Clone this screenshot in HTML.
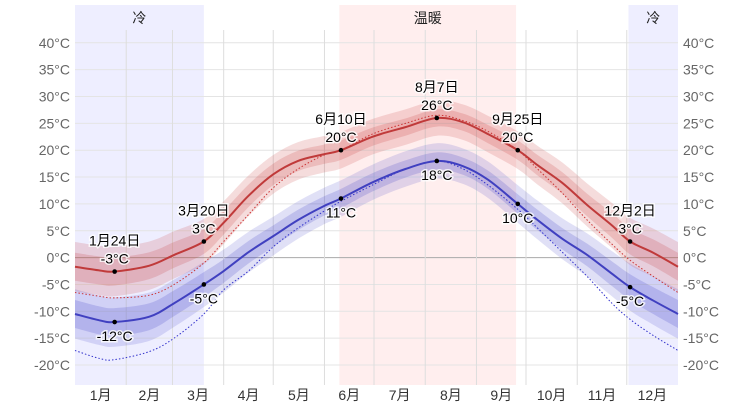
<!DOCTYPE html>
<html><head><meta charset="utf-8"><style>
body{margin:0;background:#fff}
svg{display:block;font-family:"Liberation Sans","Noto Sans CJK SC",sans-serif}
.ann{font-size:14px;fill:#000;stroke:#fff;stroke-width:3px;paint-order:stroke;stroke-opacity:.8}
</style></head><body>
<svg id="c" width="753" height="407"></svg>
<script>
const days=[0,15,24,45,60,78,90,105,120,135,150,161,180,200,219,235,250,268,280,295,310,325,336,350,365];
const highs=[-1.7,-2.4,-2.6,-1.5,0.5,3,6.5,11.5,15.5,18,19.2,20,22.5,24.3,26,25.2,23,20,17.2,13.9,9.8,6,3,0.9,-1.7];
const lows=[-10.5,-11.7,-12,-11,-8.5,-5,-2.5,1,4,7,9.5,11,14,16.5,18,17,14.5,10,7,3.5,0.5,-3,-5.5,-8,-10.5];
const feelHigh=[-6.5,-7.2,-7.5,-7,-5,-1,3,8,13,16.5,19,20,23,25,26.5,25.5,23.5,20,16.5,12,7,2.5,-0.5,-3.5,-6.5];
const feelLow=[-17.3,-18.8,-19,-17.5,-15,-10.5,-6,-2.5,2,5.5,8.5,10.5,13.5,16.5,18,16.5,13.5,9,5.5,1,-3.5,-8.5,-11.5,-14.5,-17.3];
const inner=[2.6,2.6,2.6,2.5,2.4,2.3,2.2,2.1,2,1.9,1.8,1.8,1.7,1.6,1.6,1.6,1.7,1.8,1.9,2,2.1,2.3,2.4,2.5,2.6];
const outer=[4.6,4.6,4.6,4.5,4.4,4.2,4,3.8,3.6,3.5,3.4,3.4,3.3,3.3,3.3,3.3,3.4,3.5,3.6,3.8,4,4.2,4.4,4.5,4.6];
const yTicks=[40,35,30,25,20,15,10,5,0,-5,-10,-15,-20];
const months=['1月','2月','3月','4月','5月','6月','7月','8月','9月','10月','11月','12月'];
const monthStart=[0,31,59,90,120,151,181,212,243,273,304,334,365];
const bands=[{s:0,e:78,label:'冷',c:'rgba(120,120,255,0.13)'},{s:160,e:267,label:'温暖',c:'rgba(255,120,120,0.13)'},{s:335,e:365,label:'冷',c:'rgba(120,120,255,0.13)'}];
const anns=[{d:24,v:-2.6,t:['1月24日','-3°C'],pos:'above'},{d:78,v:3,t:['3月20日','3°C'],pos:'above'},{d:161,v:20,t:['6月10日','20°C'],pos:'above'},{d:219,v:26,t:['8月7日','26°C'],pos:'above'},{d:268,v:20,t:['9月25日','20°C'],pos:'above'},{d:336,v:3,t:['12月2日','3°C'],pos:'above'},
{d:24,v:-12,t:['-12°C'],pos:'below'},{d:78,v:-5,t:['-5°C'],pos:'below'},{d:161,v:11,t:['11°C'],pos:'below'},{d:219,v:18,t:['18°C'],pos:'below'},{d:268,v:10,t:['10°C'],pos:'below'},{d:336,v:-5.5,t:['-5°C'],pos:'below'}];
const X0=75,X1=678,T=5,B=385;
const x=d=>X0+d*(X1-X0)/365;
const y=v=>257.6-v*5.37;
const svg=document.getElementById('c');const NS='http://www.w3.org/2000/svg';
function mk(tag,a,name,p){const e=document.createElementNS(NS,tag);for(const k in a)e.setAttribute(k,a[k]);


(p||svg).appendChild(e);return e;}
function pts(vals){return days.map((d,i)=>[x(d),y(vals[i])]);}
function curve(p){let s='M'+p[0][0]+','+p[0][1];for(let i=0;i<p.length-1;i++){const a=p[Math.max(0,i-1)],b=p[i],c=p[i+1],d=p[Math.min(p.length-1,i+2)];
s+=' C'+(b[0]+(c[0]-a[0])/6)+','+(b[1]+(c[1]-a[1])/6)+' '+(c[0]-(d[0]-b[0])/6)+','+(c[1]-(d[1]-b[1])/6)+' '+c[0]+','+c[1];}return s;}
function area(base,sp){const up=pts(base.map((v,i)=>v+sp[i])),dn=pts(base.map((v,i)=>v-sp[i])).reverse();
return curve(up)+' L'+dn[0][0]+','+dn[0][1]+curve(dn).replace(/^M[^ ]+/,'')+' Z';}
bands.forEach(b=>{mk('rect',{x:x(b.s),y:T,width:x(b.e)-x(b.s),height:B-T,fill:b.c},'season-band');
const t=mk('text',{x:(x(b.s)+x(b.e))/2,y:23,'text-anchor':'middle','font-size':14,fill:'#222'},'season-label');t.textContent=b.label;});
yTicks.forEach(v=>{mk('line',{x1:X0,x2:X1,y1:y(v),y2:y(v),stroke:v===0?'#aaa':'#e4e4e4','stroke-width':1},'y-gridline');
const l=mk('text',{x:70,y:y(v)+5,'text-anchor':'end','font-size':14,fill:'#666'},'y-tick-left');l.textContent=v+'°C';
const r=mk('text',{x:683,y:y(v)+5,'font-size':14,fill:'#666'},'y-tick-right');r.textContent=v+'°C';});
monthStart.slice(1,12).forEach(d=>mk('line',{x1:x(d),x2:x(d),y1:30,y2:B,stroke:'#ddd'},'month-gridline'));
months.forEach((m,i)=>{const t=mk('text',{x:x((monthStart[i]+monthStart[i+1])/2),y:400,'text-anchor':'middle','font-size':14,fill:'#333'},'month-label');t.textContent=m;});
mk('path',{d:area(highs,outer),fill:'rgba(200,60,60,0.18)'},'high-outer-band');
mk('path',{d:area(highs,inner),fill:'rgba(200,60,60,0.2)'},'high-inner-band');
mk('path',{d:area(lows,outer),fill:'rgba(60,60,200,0.16)'},'low-outer-band');
mk('path',{d:area(lows,inner),fill:'rgba(60,60,200,0.2)'},'low-inner-band');
mk('path',{d:curve(pts(feelHigh)),fill:'none',stroke:'#c33','stroke-width':1,'stroke-dasharray':'1.5,2'},'high-dotted-line');
mk('path',{d:curve(pts(feelLow)),fill:'none',stroke:'#33c','stroke-width':1,'stroke-dasharray':'1.5,2'},'low-dotted-line');
mk('path',{d:curve(pts(highs)),fill:'none',stroke:'#c03a3a','stroke-width':2},'high-line');
mk('path',{d:curve(pts(lows)),fill:'none',stroke:'#4040c0','stroke-width':2},'low-line');
anns.forEach(a=>{const cx=x(a.d),cy=y(a.v);mk('circle',{cx:cx,cy:cy,r:2.3,fill:'#000'},'annotation-dot');
a.t.forEach((s,i)=>{const yy=a.pos==='above'?cy-8-(a.t.length-1-i)*18:cy+19+i*18;
const t=mk('text',{x:cx,y:yy,'text-anchor':'middle',class:'ann'},'annotation-label');t.textContent=s;});});
</script></body></html>
